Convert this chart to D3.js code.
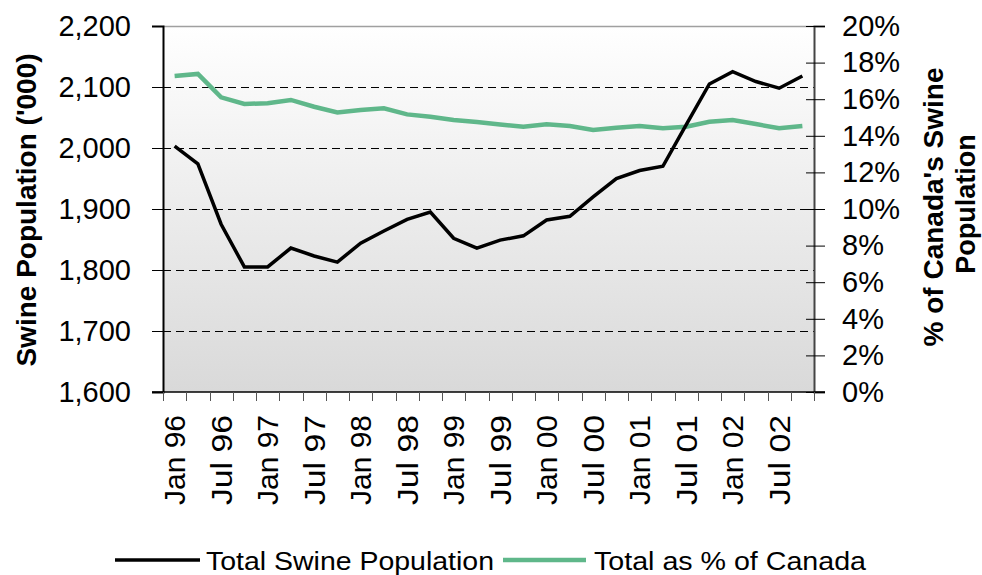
<!DOCTYPE html>
<html><head><meta charset="utf-8">
<script src="https://cdn.jsdelivr.net/npm/d3@7"></script>
<style>
body{margin:0;background:#fff}
svg{display:block}
text{font-family:"Liberation Sans",Arial,Helvetica,sans-serif;fill:#000}
</style>
</head><body>
<svg id="chart" width="982" height="575"></svg>
<script>
const categories = ["Jan 96","Apr 96","Jul 96","Oct 96","Jan 97","Apr 97","Jul 97","Oct 97",
  "Jan 98","Apr 98","Jul 98","Oct 98","Jan 99","Apr 99","Jul 99","Oct 99",
  "Jan 00","Apr 00","Jul 00","Oct 00","Jan 01","Apr 01","Jul 01","Oct 01",
  "Jan 02","Apr 02","Jul 02","Oct 02"];
const swinePopulation = [2003,1974,1875,1805,1805,1836,1823,1813,1844,1864,1883,1895,1852,1836,
  1849,1856,1882,1888,1920,1950,1963,1970,2038,2105,2125,2109,2098,2118];
const pctOfCanada = [17.27,17.38,16.1,15.74,15.78,15.96,15.59,15.28,15.41,15.5,15.17,15.04,14.86,14.75,
  14.62,14.5,14.63,14.54,14.32,14.44,14.54,14.41,14.5,14.77,14.86,14.64,14.41,14.54];
const leftTicks = [1600,1700,1800,1900,2000,2100,2200];
const rightTicks = [0,2,4,6,8,10,12,14,16,18,20];
const gridValues = [1700,1800,1900,2000,2100];
const xLabels = ["Jan 96","Jul 96","Jan 97","Jul 97","Jan 98","Jul 98","Jan 99","Jul 99",
  "Jan 00","Jul 00","Jan 01","Jul 01","Jan 02","Jul 02"];
const seriesNames = ["Total Swine Population","Total as % of Canada"];

const L = 163, R = 814, T = 26, B = 392;
const svg = d3.select("#chart");

const defs = svg.append("defs");
const grad = defs.append("linearGradient").attr("id","bg").attr("x1",0).attr("y1",0).attr("x2",0).attr("y2",1);
grad.append("stop").attr("offset","0%").attr("stop-color","#ffffff");
grad.append("stop").attr("offset","100%").attr("stop-color","#d9d9d9");

const x = d3.scaleBand().domain(categories).range([L, R]).paddingInner(0).paddingOuter(0);
const yL = d3.scaleLinear().domain([1600, 2200]).range([B, T]);
const yR = d3.scaleLinear().domain([0, 20]).range([B, T]);
const cx = d => x(d) + x.bandwidth() / 2;

// plot background
svg.append("rect").attr("x", L).attr("y", T).attr("width", R - L).attr("height", B - T)
  .attr("fill", "url(#bg)");
svg.append("line").attr("x1", L).attr("x2", R).attr("y1", T + 0.5).attr("y2", T + 0.5)
  .attr("stroke", "#a0a0a0").attr("stroke-width", 1.5);

// gridlines
svg.append("g").selectAll("line").data(gridValues).join("line")
  .attr("x1", L).attr("x2", R)
  .attr("y1", d => Math.round(yL(d)) + 0.5).attr("y2", d => Math.round(yL(d)) + 0.5)
  .attr("stroke", "#000").attr("stroke-width", 1).attr("stroke-dasharray", "8,5");

// left axis
const gL = svg.append("g").attr("transform", `translate(${L},0)`)
  .call(d3.axisLeft(yL).tickValues(leftTicks).tickFormat(d3.format(",")).tickSize(11).tickPadding(21));
gL.select(".domain").attr("stroke", "#000").attr("stroke-width", 2);
gL.selectAll(".tick line").attr("stroke", "#000");
gL.selectAll(".tick text").attr("font-size", 29).attr("font-family", "Liberation Sans, Arial, sans-serif");

// right axis
const gR = svg.append("g").attr("transform", `translate(${R},0)`)
  .call(d3.axisRight(yR).tickValues(rightTicks).tickFormat(d => d + "%").tickSize(11).tickPadding(17));
gR.select(".domain").attr("stroke", "#444").attr("stroke-width", 2);
gR.selectAll(".tick line").attr("x1", -8).attr("stroke", "#000");
gR.selectAll(".tick text").attr("font-size", 29).attr("font-family", "Liberation Sans, Arial, sans-serif");

// bottom axis
svg.append("line").attr("x1", L - 11).attr("x2", R + 11).attr("y1", B).attr("y2", B)
  .attr("stroke", "#000").attr("stroke-width", 1.5);
const edges = categories.map(c => x(c)).concat([R]);
svg.append("g").selectAll("line").data(edges).join("line")
  .attr("x1", d => Math.round(d) + 0.5).attr("x2", d => Math.round(d) + 0.5)
  .attr("y1", B).attr("y2", B + 9).attr("stroke", "#555").attr("stroke-width", 1);
const gX = svg.append("g").attr("transform", `translate(0,${B})`)
  .call(d3.axisBottom(x).tickValues(xLabels).tickSize(0).tickPadding(0));
gX.select(".domain").remove();
gX.selectAll(".tick text")
  .attr("font-size", 29).attr("font-family", "Liberation Sans, Arial, sans-serif")
  .attr("text-anchor", "end").attr("transform", "rotate(-90)")
  .attr("x", -23).attr("y", 0).attr("dy", "0.36em")
  .attr("textLength", 90).attr("lengthAdjust", "spacingAndGlyphs");

// lines
const lineL = d3.line().x((d, i) => cx(categories[i])).y(d => yL(d));
const lineR = d3.line().x((d, i) => cx(categories[i])).y(d => yR(d));
svg.append("path").datum(pctOfCanada).attr("d", lineR)
  .attr("fill", "none").attr("stroke", "#5fb78a").attr("stroke-width", 4.5).attr("stroke-linejoin", "miter");
svg.append("path").datum(swinePopulation).attr("d", lineL)
  .attr("fill", "none").attr("stroke", "#000").attr("stroke-width", 3.5).attr("stroke-linejoin", "miter");

// axis titles
svg.append("text").attr("transform", `translate(36,${(T + B) / 2 + 1}) rotate(-90)`)
  .attr("text-anchor", "middle").attr("font-size", 28).attr("font-weight", "bold")
  .text("Swine Population ('000)");
svg.append("text").attr("transform", `translate(943,207) rotate(-90)`)
  .attr("text-anchor", "middle").attr("font-size", 28).attr("font-weight", "bold")
  .text("% of Canada's Swine");
svg.append("text").attr("transform", `translate(975,204) rotate(-90)`)
  .attr("text-anchor", "middle").attr("font-size", 27).attr("font-weight", "bold")
  .text("Population");

// legend
const legend = svg.append("g");
legend.append("line").attr("x1", 115).attr("x2", 200).attr("y1", 560).attr("y2", 560)
  .attr("stroke", "#000").attr("stroke-width", 3.5);
legend.append("text").attr("x", 206).attr("y", 570).attr("font-size", 25)
  .attr("textLength", 288).attr("lengthAdjust", "spacingAndGlyphs").text(seriesNames[0]);
legend.append("line").attr("x1", 503).attr("x2", 586).attr("y1", 560).attr("y2", 560)
  .attr("stroke", "#5fb78a").attr("stroke-width", 4.5);
legend.append("text").attr("x", 594).attr("y", 570).attr("font-size", 25)
  .attr("textLength", 272).attr("lengthAdjust", "spacingAndGlyphs").text(seriesNames[1]);
</script>
</body></html>
